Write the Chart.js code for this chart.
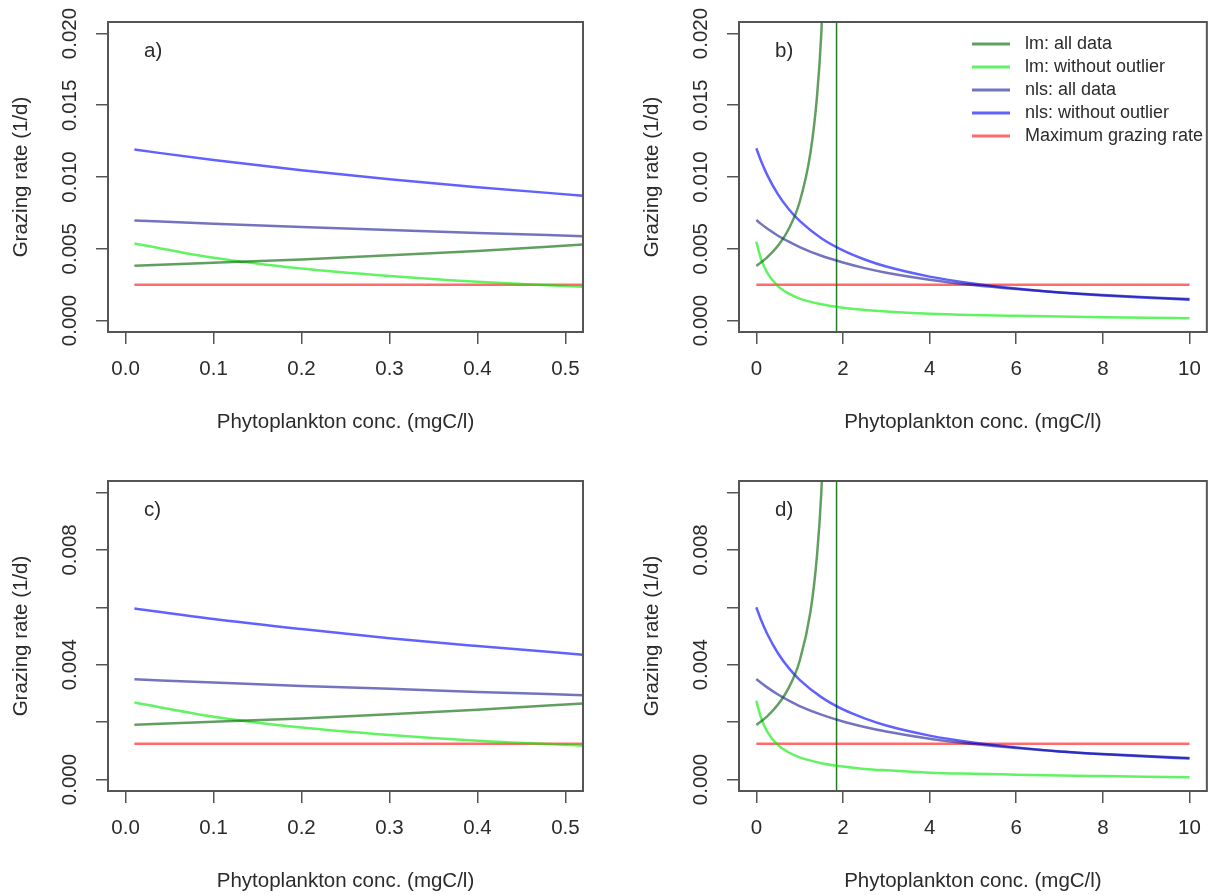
<!DOCTYPE html>
<html>
<head>
<meta charset="utf-8">
<title>Grazing rate vs phytoplankton concentration</title>
<script src="https://cdn.jsdelivr.net/npm/chart.js@4.4.1/dist/chart.umd.min.js"></script>
<style>
    html, body { margin: 0; padding: 0; background: #ffffff; }
    #page { position: relative; width: 1214px; height: 895px; overflow: hidden; }
    canvas { position: absolute; }
</style>
</head>
<body>
<div id="page">
    <canvas id="panelA" width="607" height="436" style="left:0px;top:0px"></canvas>
    <canvas id="panelB" width="607" height="436" style="left:607px;top:0px"></canvas>
    <canvas id="panelC" width="607" height="436" style="left:0px;top:459px"></canvas>
    <canvas id="panelD" width="607" height="436" style="left:607px;top:459px"></canvas>
</div>
<script>
// ===== DATA =====
const legendLabels = ["lm: all data", "lm: without outlier", "nls: all data", "nls: without outlier", "Maximum grazing rate"];

// x positions (mgC/l)
const xSmall = [0.01, 0.1, 0.2, 0.3, 0.4, 0.52];
const xSmallEnds = [0.01, 0.52];
const xLarge = [0, 0.1, 0.25, 0.5, 0.75, 1, 1.5, 2, 2.5, 3, 4, 5, 6, 7, 8, 9, 10];
const xLargeEnds = [0, 10];
const xLmAllLarge = [0, 0.25, 0.5, 0.75, 1, 1.25, 1.4, 1.5, 1.6];
const xAsymptote = [1.852, 1.852];

// tick values and labels
const xTicksSmall = [0, 0.1, 0.2, 0.3, 0.4, 0.5];
const xLabelsSmall = ["0.0", "0.1", "0.2", "0.3", "0.4", "0.5"];
const xTicksLarge = [0, 2, 4, 6, 8, 10];
const xLabelsLarge = ["0", "2", "4", "6", "8", "10"];
const yTicksTop = [0, 0.005, 0.010, 0.015, 0.020];
const yLabelsTop = ["0.000", "0.005", "0.010", "0.015", "0.020"];
const yTicksBottom = [0, 0.002, 0.004, 0.006, 0.008, 0.010];
const yLabelsBottom = ["0.000", "", "0.004", "", "0.008", ""];

// panel a)
const lmAllA    = [0.00382, 0.00402, 0.00426, 0.00454, 0.00485, 0.00529];
const lmNoOutA  = [0.00536, 0.00437, 0.00362, 0.00310, 0.00270, 0.00235];
const nlsAllA   = [0.00697, 0.00675, 0.00652, 0.00631, 0.00610, 0.00588];
const nlsNoOutA = [0.01191, 0.01118, 0.01047, 0.00984, 0.00929, 0.00870];
const maxRateA  = [0.0025, 0.0025];

// panel b)
const lmAllB    = [0.00380, 0.00440, 0.00521, 0.00639, 0.00826, 0.01170, 0.01558, 0.02000, 0.02790];
const asymB     = [0.05, -0.05];
const lmNoOutB  = [0.00549, 0.00437, 0.00334, 0.00240, 0.00187, 0.00153, 0.00113, 0.00089, 0.00074, 0.00063, 0.00048, 0.00039, 0.00033, 0.00028, 0.00023, 0.00020, 0.00016];
const nlsAllB   = [0.00700, 0.00675, 0.00641, 0.00591, 0.00549, 0.00512, 0.00451, 0.00404, 0.00365, 0.00333, 0.00284, 0.00247, 0.00219, 0.00196, 0.00178, 0.00163, 0.00150];
const nlsNoOutB = [0.01200, 0.01118, 0.01015, 0.00879, 0.00775, 0.00694, 0.00573, 0.00488, 0.00425, 0.00376, 0.00306, 0.00258, 0.00223, 0.00196, 0.00175, 0.00159, 0.00145];
const maxRateB  = [0.0025, 0.0025];

// panel c)
const lmAllC    = [0.00191, 0.00201, 0.00213, 0.00227, 0.00243, 0.00265];
const lmNoOutC  = [0.00268, 0.00219, 0.00181, 0.00155, 0.00135, 0.00118];
const nlsAllC   = [0.00349, 0.00338, 0.00326, 0.00316, 0.00305, 0.00294];
const nlsNoOutC = [0.00596, 0.00559, 0.00524, 0.00492, 0.00465, 0.00435];
const maxRateC  = [0.00125, 0.00125];

// panel d)
const lmAllD    = [0.00190, 0.00220, 0.00261, 0.00320, 0.00413, 0.00585, 0.00779, 0.01000, 0.01395];
const asymD     = [0.05, -0.05];
const lmNoOutD  = [0.00275, 0.00219, 0.00167, 0.00120, 0.00094, 0.00077, 0.00057, 0.00045, 0.00037, 0.00032, 0.00024, 0.00020, 0.00017, 0.00014, 0.00012, 0.00010, 0.00008];
const nlsAllD   = [0.00350, 0.00338, 0.00321, 0.00296, 0.00275, 0.00256, 0.00226, 0.00202, 0.00183, 0.00167, 0.00142, 0.00124, 0.00110, 0.00098, 0.00089, 0.00082, 0.00075];
const nlsNoOutD = [0.00600, 0.00559, 0.00508, 0.00440, 0.00388, 0.00347, 0.00287, 0.00244, 0.00213, 0.00188, 0.00153, 0.00129, 0.00112, 0.00098, 0.00088, 0.00080, 0.00073];
const maxRateD  = [0.00125, 0.00125];

// ===== STYLE =====
const FONT = "'Liberation Sans', Arial, Helvetica, sans-serif";
const TEXT_COLOR = "#2b2b2b";
const AXIS_COLOR = "#555555";
const seriesColors = [
    "rgba(0, 100, 0, 0.62)",
    "rgba(0, 235, 0, 0.62)",
    "rgba(0, 0, 139, 0.55)",
    "rgba(0, 0, 255, 0.62)",
    "rgba(255, 0, 0, 0.58)"
];
const ASYM_COLOR = "rgba(0, 100, 0, 0.85)";

/* ===== DECORATION PLUGIN (box, rotated y labels, panel tag, legend) ===== */
function makeDecor(cfg) {
    return {
        id: "decor_" + cfg.tag,
        afterDraw(chart) {
            const ctx = chart.ctx;
            const area = chart.chartArea;
            const yScale = chart.scales.y;
            ctx.save();

            // box round the plot
            ctx.strokeStyle = AXIS_COLOR;
            ctx.lineWidth = 2;
            ctx.strokeRect(area.left, area.top, area.right - area.left, area.bottom - area.top);

            // y tick labels, parallel to the axis like R
            ctx.fillStyle = TEXT_COLOR;
            ctx.font = "20.5px " + FONT;
            ctx.textAlign = "center";
            ctx.textBaseline = "middle";
            cfg.yTicks.forEach((v, i) => {
                const lbl = cfg.yLabels[i];
                if (!lbl) return;
                ctx.save();
                ctx.translate(area.left - 38, yScale.getPixelForValue(v));
                ctx.rotate(-Math.PI / 2);
                ctx.fillText(lbl, 0, 0);
                ctx.restore();
            });

            // panel tag
            ctx.textAlign = "left";
            ctx.fillText(cfg.tag, area.left + 36, area.top + 29);

            // legend (panel b only)
            if (cfg.legend) {
                ctx.font = "18px " + FONT;
                let row = 0;
                chart.data.datasets.forEach(ds => {
                    if (!ds.label) return;
                    const y = area.top + 22 + row * 23;
                    ctx.strokeStyle = ds.borderColor;
                    ctx.lineWidth = 3;
                    ctx.beginPath();
                    ctx.moveTo(area.left + 233, y);
                    ctx.lineTo(area.left + 271, y);
                    ctx.stroke();
                    ctx.fillStyle = TEXT_COLOR;
                    ctx.fillText(ds.label, area.left + 286, y);
                    row++;
                });
            }
            ctx.restore();
        }
    };
}

/* ===== PANEL FACTORY ===== */
function makePanel(canvasId, cfg) {
    const datasets = cfg.series.map(s => ({
        label: s.label,
        data: s.xs.map((x, i) => ({ x: x, y: s.ys[i] })),
        borderColor: s.color,
        borderWidth: s.width || 2.5,
        pointRadius: 0,
        fill: false,
        cubicInterpolationMode: "monotone",
        clip: 0
    }));

    const ctx = document.getElementById(canvasId).getContext("2d");

    return new Chart(ctx, {
        type: "line",
        data: { datasets: datasets },
        options: {
            responsive: false,
            animation: false,
            events: [],
            layout: { padding: { left: 0, top: 22, right: cfg.padRight, bottom: 0 } },
            plugins: {
                legend: { display: false },
                tooltip: { enabled: false }
            },
            scales: {
                x: {
                    type: "linear",
                    min: cfg.xMin,
                    max: cfg.xMax,
                    afterBuildTicks: s => { s.ticks = cfg.xTicks.map(v => ({ value: v })); },
                    afterFit: s => { s.height = 104; },
                    border: { display: false },
                    grid: { drawOnChartArea: false, drawTicks: true, tickLength: 12, color: AXIS_COLOR, lineWidth: 1.5 },
                    ticks: {
                        autoSkip: false,
                        maxRotation: 0,
                        padding: 13,
                        color: TEXT_COLOR,
                        font: { family: FONT, size: 20.5 },
                        callback: (value, index) => cfg.xLabels[index]
                    },
                    title: {
                        display: true,
                        text: "Phytoplankton conc. (mgC/l)",
                        color: TEXT_COLOR,
                        font: { family: FONT, size: 20.5, lineHeight: 1.2 },
                        padding: { top: 0, bottom: 1 }
                    }
                },
                y: {
                    type: "linear",
                    min: cfg.yMin,
                    max: cfg.yMax,
                    afterBuildTicks: s => { s.ticks = cfg.yTicks.map(v => ({ value: v })); },
                    afterFit: s => { s.width = cfg.axisWidth; },
                    border: { display: false },
                    grid: { drawOnChartArea: false, drawTicks: true, tickLength: 12, color: AXIS_COLOR, lineWidth: 1.5 },
                    ticks: { display: false },
                    title: {
                        display: true,
                        text: "Grazing rate (1/d)",
                        color: TEXT_COLOR,
                        font: { family: FONT, size: 20.5, lineHeight: 1.2 },
                        padding: { top: cfg.axisWidth - 99, bottom: 0 }
                    }
                }
            }
        },
        plugins: [makeDecor(cfg)]
    });
}

// ===== PANELS =====
makePanel("panelA", {
    tag: "a)", legend: false,
    xMin: -0.02, xMax: 0.52, yMin: -0.0008, yMax: 0.0208,
    xTicks: xTicksSmall, xLabels: xLabelsSmall, yTicks: yTicksTop, yLabels: yLabelsTop,
    axisWidth: 108, padRight: 24,
    series: [
        { label: legendLabels[0], xs: xSmall, ys: lmAllA, color: seriesColors[0] },
        { label: legendLabels[1], xs: xSmall, ys: lmNoOutA, color: seriesColors[1] },
        { label: legendLabels[2], xs: xSmall, ys: nlsAllA, color: seriesColors[2] },
        { label: legendLabels[3], xs: xSmall, ys: nlsNoOutA, color: seriesColors[3] },
        { label: legendLabels[4], xs: xSmallEnds, ys: maxRateA, color: seriesColors[4] }
    ]
});

makePanel("panelB", {
    tag: "b)", legend: true,
    xMin: -0.4, xMax: 10.4, yMin: -0.0008, yMax: 0.0208,
    xTicks: xTicksLarge, xLabels: xLabelsLarge, yTicks: yTicksTop, yLabels: yLabelsTop,
    axisWidth: 132, padRight: 2,
    series: [
        { label: legendLabels[0], xs: xLmAllLarge, ys: lmAllB, color: seriesColors[0] },
        { label: legendLabels[1], xs: xLarge, ys: lmNoOutB, color: seriesColors[1] },
        { label: legendLabels[2], xs: xLarge, ys: nlsAllB, color: seriesColors[2] },
        { label: legendLabels[3], xs: xLarge, ys: nlsNoOutB, color: seriesColors[3] },
        { label: legendLabels[4], xs: xLargeEnds, ys: maxRateB, color: seriesColors[4] },
        { label: "", xs: xAsymptote, ys: asymB, color: ASYM_COLOR, width: 1.5 }
    ]
});

makePanel("panelC", {
    tag: "c)", legend: false,
    xMin: -0.02, xMax: 0.52, yMin: -0.0004, yMax: 0.0104,
    xTicks: xTicksSmall, xLabels: xLabelsSmall, yTicks: yTicksBottom, yLabels: yLabelsBottom,
    axisWidth: 108, padRight: 24,
    series: [
        { label: legendLabels[0], xs: xSmall, ys: lmAllC, color: seriesColors[0] },
        { label: legendLabels[1], xs: xSmall, ys: lmNoOutC, color: seriesColors[1] },
        { label: legendLabels[2], xs: xSmall, ys: nlsAllC, color: seriesColors[2] },
        { label: legendLabels[3], xs: xSmall, ys: nlsNoOutC, color: seriesColors[3] },
        { label: legendLabels[4], xs: xSmallEnds, ys: maxRateC, color: seriesColors[4] }
    ]
});

makePanel("panelD", {
    tag: "d)", legend: false,
    xMin: -0.4, xMax: 10.4, yMin: -0.0004, yMax: 0.0104,
    xTicks: xTicksLarge, xLabels: xLabelsLarge, yTicks: yTicksBottom, yLabels: yLabelsBottom,
    axisWidth: 132, padRight: 2,
    series: [
        { label: legendLabels[0], xs: xLmAllLarge, ys: lmAllD, color: seriesColors[0] },
        { label: legendLabels[1], xs: xLarge, ys: lmNoOutD, color: seriesColors[1] },
        { label: legendLabels[2], xs: xLarge, ys: nlsAllD, color: seriesColors[2] },
        { label: legendLabels[3], xs: xLarge, ys: nlsNoOutD, color: seriesColors[3] },
        { label: legendLabels[4], xs: xLargeEnds, ys: maxRateD, color: seriesColors[4] },
        { label: "", xs: xAsymptote, ys: asymD, color: ASYM_COLOR, width: 1.5 }
    ]
});
</script>
</body>
</html>
